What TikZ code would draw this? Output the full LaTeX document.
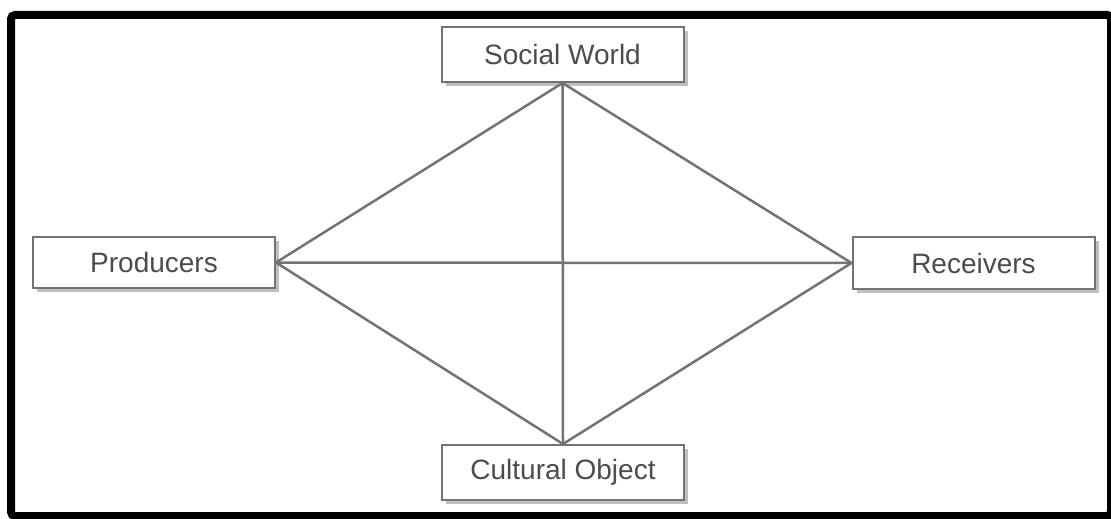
\documentclass[tikz,border=0pt]{standalone}
\usepackage{fontspec}
\setmainfont{Liberation Sans}
\usetikzlibrary{shadows}

\tikzset{
	box/.style= {draw= black!55, line width= 2pt, fill= white, inner sep= 0pt,
		minimum width= 242pt, minimum height= 53pt, text= black!70,
		font= \fontsize{28}{30}\selectfont,
		drop shadow= {shadow xshift= 4pt, shadow yshift= -4pt, fill= black!25, opacity= 1}},
	link/.style= {draw= black!55, line width= 2.5pt}
}

\begin{document}
\begin{tikzpicture}[x= 1pt, y= -1pt]
\useasboundingbox (0, 0) rectangle (1111, 519);
% 外枠
	\draw[line width= 8pt, rounded corners= 4pt] (11, 15) rectangle (1111, 516); %
% 箱
	\node[box, minimum height= 55pt] (social) at (562.5, 54.5) {Social World}; %上
	\node[box, minimum height= 51pt] (prod) at (154, 262.5) {Producers}; %左
	\node[box, minimum height= 52pt] (recv) at (973.5, 263) {Receivers}; %右
	\node[box, minimum height= 55pt] (cult) at (563, 472.5) {Cultural Object}; %下
% 線
	\draw[link] (social.south) -- (prod.east);
	\draw[link] (social.south) -- (recv.west);
	\draw[link] (social.south) -- (cult.north);
	\draw[link] (prod.east) -- (recv.west);
	\draw[link] (prod.east) -- (cult.north);
	\draw[link] (recv.west) -- (cult.north);
\end{tikzpicture}
\end{document}
